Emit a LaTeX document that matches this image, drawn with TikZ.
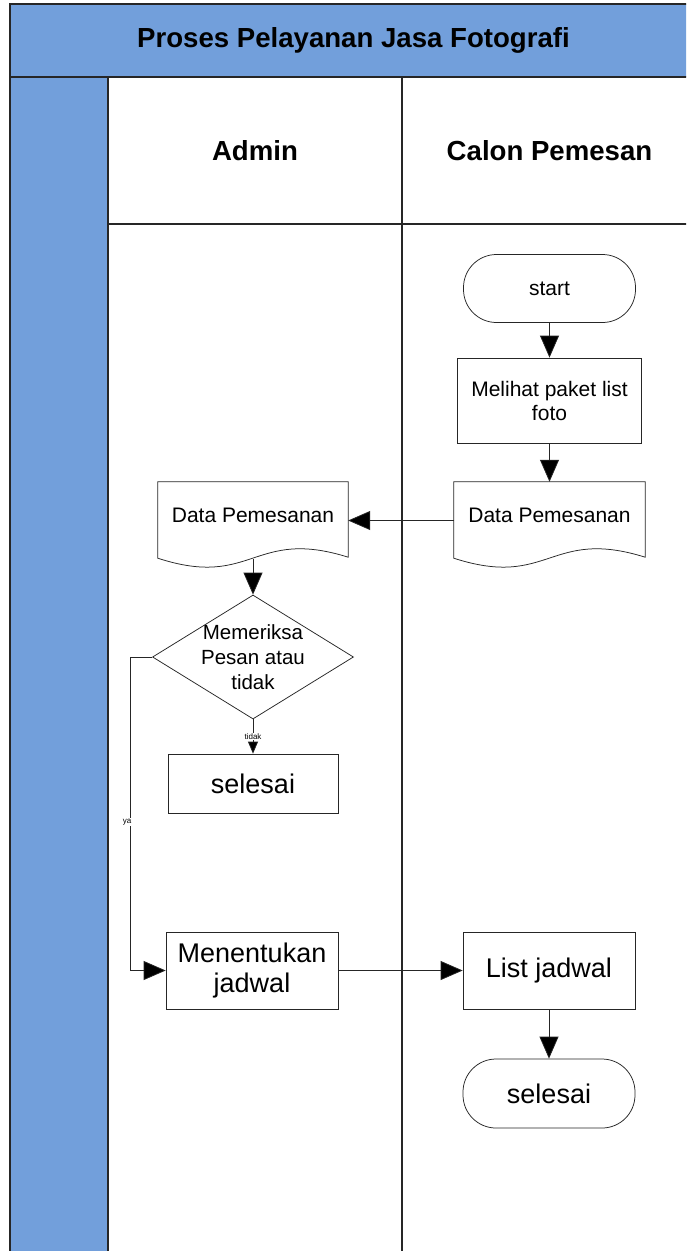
\documentclass[tikz,border=0pt]{standalone}
\usepackage{fontspec}
\setmainfont{Liberation Sans}
\usetikzlibrary{arrows.meta,shapes.geometric,calc}
\definecolor{laneblue}{RGB}{114,159,219}
\begin{document}
\begin{tikzpicture}[x=1pt,y=-1pt,
  frameline/.style={draw=black!85,line width=1.1pt},
  shapeline/.style={draw=black!85,line width=0.75pt},
  proc/.style={shapeline,fill=white,rectangle,align=center,inner sep=2pt},
  term/.style={proc,rounded corners=33pt},
  mid/.style={font=\fontsize{21}{24}\selectfont},
  big/.style={font=\fontsize{27}{30}\selectfont},
  hdr/.style={font=\fontsize{27.6}{31}\selectfont\bfseries},
  docnode/.style={rectangle,inner sep=0pt,minimum width=190pt,minimum height=77pt,font=\fontsize{21}{24}\selectfont},
  arr/.style={draw=black!85,line width=0.75pt,-{Triangle[length=22pt,width=19pt,fill=black]}},
  arrs/.style={draw=black!85,line width=0.75pt,-{Triangle[length=12pt,width=10pt,fill=black]}},
  lbl/.style={fill=white,inner sep=1pt,font=\fontsize{8}{9}\selectfont}
]
\useasboundingbox (0,0) rectangle (686,1251);
\clip (0,0) rectangle (686,1251);
\fill[white] (0,0) rectangle (686,1251);
% pool frame
\fill[laneblue] (10,4) rectangle (700,77);
\fill[laneblue] (10,77) rectangle (108,1270);
\draw[frameline] (10,1270) -- (10,4) -- (700,4);
\draw[frameline] (10,77) -- (700,77);
\draw[frameline] (108,77) -- (108,1270);
\draw[frameline] (108,224) -- (700,224);
\draw[frameline] (402,77) -- (402,1270);
% headers
\node[hdr] (title) at (353.5,40) {Proses Pelayanan Jasa Fotografi};
\node[hdr] (admin) at (255,151) {Admin};
\node[hdr] (calon) at (549.5,151) {Calon Pemesan};
% shapes
\node[term,mid,minimum width=172pt,minimum height=68pt] (start) at (549.5,288.5) {start};
\node[proc,mid,minimum width=184pt,minimum height=85pt] (lihat) at (549.5,400.5) {Melihat paket list\\foto};
\node[docnode,minimum width=191pt] (rdoc) at (549.5,520.5) {};
\draw[shapeline,fill=white] (rdoc.north west) -- ($(rdoc.south west)+(0,-1)$)
  .. controls ($(rdoc.south)+(0,30)$) and ($(rdoc.south)+(0,-32)$) .. ($(rdoc.south east)+(0,-2)$)
  -- (rdoc.north east) -- cycle;
\node[docnode,minimum width=191pt] (rdoctext) at (549.5,515) {Data Pemesanan};
\node[docnode] (ldoc) at (253,520.5) {};
\draw[shapeline,fill=white] (ldoc.north west) -- ($(ldoc.south west)+(0,-1)$)
  .. controls ($(ldoc.south)+(0,30)$) and ($(ldoc.south)+(0,-32)$) .. ($(ldoc.south east)+(0,-2)$)
  -- (ldoc.north east) -- cycle;
\node[docnode] (ldoctext) at (253,515) {Data Pemesanan};
\node[diamond,shapeline,fill=white,aspect=1.62,minimum width=201pt,minimum height=124pt,inner sep=0pt] (dia) at (253,657) {};
\node[align=center,inner sep=0pt,font=\fontsize{20.5}{25}\selectfont] (diatext) at (dia.center) {Memeriksa\\Pesan atau\\tidak};
\node[proc,big,minimum width=170pt,minimum height=59pt] (s1) at (253,783.5) {selesai};
\node[proc,big,minimum width=172pt,minimum height=77pt] (tentu) at (252,970.5) {Menentukan\\jadwal};
\node[proc,big,minimum width=172pt,minimum height=77pt] (list) at (549,970.5) {List jadwal};
\node[term,big,minimum width=172pt,minimum height=69pt] (s2) at (549,1093.5) {selesai};
\coordinate (yc) at (130,970.5);
% connectors
\draw[arr] (start.south) -- (lihat.north);
\draw[arr] (lihat.south) -- (rdoc.north);
\draw[arr] (rdoc.west) -- (ldoc.east);
\draw[arr] (ldoc.south) -- (dia.north);
\draw[arrs] (dia.south) -- node[lbl] (tidak) {tidak} (s1.north);
\draw[arr] (dia.west) -| (yc) -- (tentu.west);
\node[lbl] (ya) at (127,822) {ya};
\draw[arr] (tentu.east) -- (list.west);
\draw[arr] (list.south) -- (s2.north);
\end{tikzpicture}
\end{document}
